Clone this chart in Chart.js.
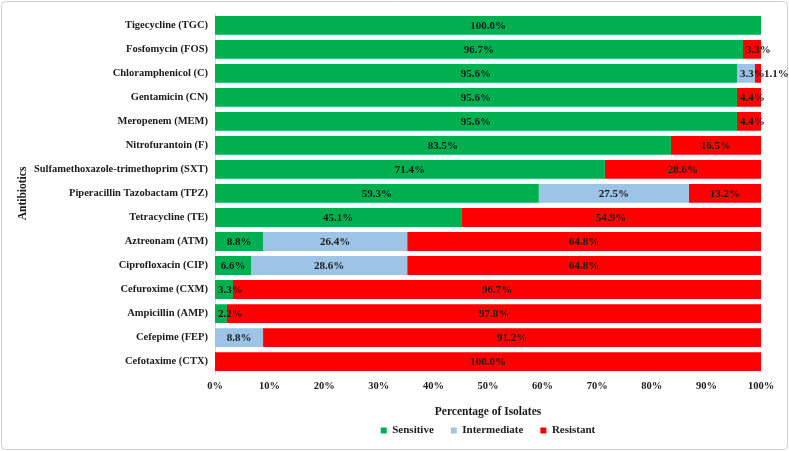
<!DOCTYPE html>
<html>
<head>
<meta charset="utf-8">
<script src="https://cdn.jsdelivr.net/npm/chart.js@4/dist/chart.umd.min.js"></script>
<style>
html,body{margin:0;padding:0;background:#fff;}
#wrap{width:789px;height:451px;position:relative;}
</style>
</head>
<body>
<div id="wrap"><canvas id="c" width="789" height="451"></canvas></div>
<script>
const categories = [
  "Tigecycline (TGC)",
  "Fosfomycin (FOS)",
  "Chloramphenicol (C)",
  "Gentamicin (CN)",
  "Meropenem (MEM)",
  "Nitrofurantoin (F)",
  "Sulfamethoxazole-trimethoprim (SXT)",
  "Piperacillin Tazobactam (TPZ)",
  "Tetracycline (TE)",
  "Aztreonam (ATM)",
  "Ciprofloxacin (CIP)",
  "Cefuroxime (CXM)",
  "Ampicillin (AMP)",
  "Cefepime (FEP)",
  "Cefotaxime (CTX)"
];
const sensitive    = [100.0, 96.7, 95.6, 95.6, 95.6, 83.5, 71.4, 59.3, 45.1, 8.8, 6.6, 3.3, 2.2, 0, 0];
const intermediate = [0, 0, 3.3, 0, 0, 0, 0, 27.5, 0, 26.4, 28.6, 0, 0, 8.8, 0];
const resistant    = [0, 3.3, 1.1, 4.4, 4.4, 16.5, 28.6, 13.2, 54.9, 64.8, 64.8, 96.7, 97.8, 91.2, 100.0];
const seriesNames = ["Sensitive", "Intermediate", "Resistant"];
const xTickValues = [0, 10, 20, 30, 40, 50, 60, 70, 80, 90, 100];

const FONT = "'Liberation Serif', 'Times New Roman', serif";

const frame = {
  id: 'frame',
  beforeDraw(chart) {
    const ctx = chart.ctx;
    ctx.save();
    ctx.fillStyle = '#fff';
    ctx.fillRect(0, 0, chart.width, chart.height);
    ctx.strokeStyle = '#d0d0d0';
    ctx.lineWidth = 1;
    ctx.beginPath();
    if (ctx.roundRect) ctx.roundRect(1.5, 1.5, chart.width - 3, chart.height - 3, 4);
    else ctx.rect(1.5, 1.5, chart.width - 3, chart.height - 3);
    ctx.stroke();
    ctx.restore();
  }
};

const labels = {
  id: 'barLabels',
  afterDatasetsDraw(chart) {
    const ctx = chart.ctx;
    ctx.save();
    ctx.font = "bold 11px " + FONT;
    ctx.fillStyle = '#1a1a1a';
    ctx.textBaseline = 'middle';
    ctx.textAlign = 'center';
    chart.data.datasets.forEach((ds, di) => {
      const meta = chart.getDatasetMeta(di);
      meta.data.forEach((el, i) => {
        const v = ds.data[i];
        if (!v) return;
        const txt = v.toFixed(1) + '%';
        const w = ctx.measureText(txt).width;
        const lo = Math.min(el.x, el.base), hi = Math.max(el.x, el.base);
        let x = (lo + hi) / 2;
        if (v < 2) {
          x = hi + 3 + w / 2;
        } else {
          x = Math.max(x, lo + w / 2 + 3);
        }
        ctx.fillText(txt, x, el.y + 1);
      });
    });
    ctx.restore();
  }
};

new Chart(document.getElementById('c'), {
  type: 'bar',
  data: {
    labels: categories,
    datasets: [
      { label: seriesNames[0], data: sensitive, backgroundColor: '#00B050', borderWidth: 0 },
      { label: seriesNames[1], data: intermediate, backgroundColor: '#9DC3E6', borderWidth: 0 },
      { label: seriesNames[2], data: resistant, backgroundColor: '#FF0000', borderWidth: 0 }
    ]
  },
  options: {
    indexAxis: 'y',
    responsive: false,
    animation: false,
    layout: { padding: { top: 13, left: 16, right: 28, bottom: 5 } },
    datasets: { bar: { categoryPercentage: 0.8, barPercentage: 0.98 } },
    scales: {
      x: {
        stacked: true,
        min: 0, max: 100,
        afterBuildTicks(scale) { scale.ticks = xTickValues.map(v => ({ value: v })); },
        grid: { display: false, drawTicks: false },
        border: { display: false },
        ticks: {
          padding: 6,
          color: '#1a1a1a',
          font: { family: FONT, size: 10.5, weight: 'bold' },
          callback: v => v + '%'
        },
        title: {
          display: true,
          text: 'Percentage of Isolates',
          color: '#1a1a1a',
          font: { family: FONT, size: 11.5, weight: 'bold' },
          padding: { top: 7, bottom: 0 }
        }
      },
      y: {
        stacked: true,
        afterFit(scale) { scale.width = 199; },
        grid: { display: false, drawTicks: false },
        border: { display: true, color: '#d9d9d9', width: 1 },
        ticks: {
          padding: 7,
          color: '#1a1a1a',
          autoSkip: false,
          font: { family: FONT, size: 10.5, weight: 'bold' }
        },
        title: {
          display: true,
          text: 'Antibiotics',
          color: '#1a1a1a',
          font: { family: FONT, size: 11.5, weight: 'bold' },
          padding: { top: 0, bottom: 0 }
        }
      }
    },
    plugins: {
      legend: {
        position: 'bottom',
        fullSize: false,
        labels: {
          boxWidth: 6, boxHeight: 6, padding: 6,
          color: '#1a1a1a',
          font: { family: FONT, size: 11, weight: 'bold' },
          generateLabels(chart) {
            const items = Chart.defaults.plugins.legend.labels.generateLabels(chart);
            return items.map((it, i) => Object.assign(it, {
              text: i < items.length - 1 ? it.text + '\u00A0'.repeat(4) : it.text
            }));
          }
        }
      },
      tooltip: { enabled: false }
    }
  },
  plugins: [frame, labels]
});
</script>
</body>
</html>
